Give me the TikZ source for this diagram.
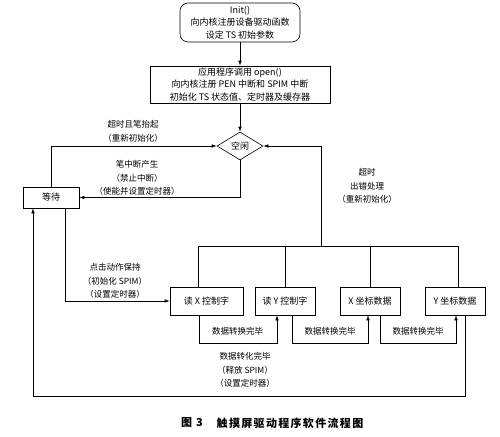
\documentclass[tikz,border=0pt]{standalone}
\usepackage{fontspec}
\setmainfont{Noto Sans CJK SC}
\newfontfamily\capfont{Noto Sans CJK SC}[LetterSpace=12]
\usetikzlibrary{shapes.geometric,arrows.meta,calc}
\begin{document}
\begin{tikzpicture}[x=1pt,y=-1pt,
  box/.style={draw, line width=0.6pt, minimum height=28pt, inner sep=2pt, font=\fontsize{9}{12.3}\selectfont, align=center},
  lab/.style={font=\fontsize{8.5}{13.5}\selectfont, align=center, inner sep=0pt},
  ln/.style={line width=0.6pt},
  arr/.style={ln, -{Latex[length=5pt,width=3.5pt]}},
  captext/.style={font=\capfont\bfseries\fontsize{11}{13}\selectfont, inner sep=0pt}]
\useasboundingbox (0,0) rectangle (500,436);
% nodes
\node[box, rounded corners=8pt, minimum width=120pt, minimum height=39pt] (init) at (240,22.5) {Init()\\向内核注册设备驱动函数\\设定 TS 初始参数};
\node[box, minimum width=180pt, minimum height=37pt] (open) at (240,84.5) {应用程序调用 open()\\向内核注册 PEN 中断和 SPIM 中断\\初始化 TS 状态值、定时器及缓存器};
\node[draw, line width=0.6pt, diamond, aspect=1.6, minimum width=46pt, minimum height=28pt, inner sep=0pt, font=\fontsize{9}{11}\selectfont] (idle) at (240,146) {空闲};
\node[box, minimum width=56pt, minimum height=21pt] (wait) at (51,197.5) {等待};
\node[box, minimum width=73pt] (rx) at (206.5,301) {读 X 控制字};
\node[box, minimum width=60pt] (ry) at (285,301) {读 Y 控制字};
\node[box, minimum width=60pt] (xd) at (370,301) {X 坐标数据};
\node[box, minimum width=60pt] (yd) at (455,301) {Y 坐标数据};
% labels
\node[lab] (l1) at (133,131.5) {超时且笔抬起\\（重新初始化）};
\node[lab] (l2) at (137,178) {笔中断产生\\（禁止中断）\\（使能并设置定时器）};
\node[lab] (l3) at (367,186) {超时\\出错处理\\（重新初始化）};
\node[lab] (l4) at (115,281) {点击动作保持\\（初始化 SPIM）\\（设置定时器）};
\node[lab] (l5) at (237.5,331) {数据转换完毕};
\node[lab] (l6) at (330,331) {数据转换完毕};
\node[lab] (l7) at (418,331) {数据转换完毕};
\node[lab] (l8) at (245,370) {数据转化完毕\\（释放 SPIM）\\（设置定时器）};
\node[captext] (capa) at (192,423) {图 3};
\node[captext] (capb) at (290,423) {触摸屏驱动程序软件流程图};
% connectors
\draw[arr] (init) -- (open);
\draw[arr] (open) -- (idle);
\draw[arr] (wait.north) |- (idle.west);
\draw[arr] (idle.south) |- (wait.east);
\draw[arr] ($(wait.south)+(14,0)$) |- (rx.west);
\coordinate (ta) at (198,246);
\coordinate (tb) at (458,246);
\coordinate (hub) at (321,246);
\draw[ln] (ta |- rx.north) -- (ta) -- (tb) -- (tb |- yd.north);
\draw[ln] (ry.north) -- (ry.north |- ta);
\draw[ln] (xd.north) -- (xd.north |- ta);
\draw[arr] (hub) |- (idle.east);
\draw[arr] ($(rx.south)+(-7.5,0)$) -- ++(0,28) -| ($(ry.south)+(-8,0)$);
\draw[arr] ($(ry.south)+(7,0)$) -- ++(0,28) -| ($(xd.south)+(-2,0)$);
\draw[arr] ($(xd.south)+(10,0)$) -- ++(0,28) -| ($(yd.south)+(1,0)$);
\draw[arr] ($(yd.south)+(10,0)$) -- ++(0,81) -| ($(wait.south)+(-18,0)$);
\end{tikzpicture}
\end{document}
